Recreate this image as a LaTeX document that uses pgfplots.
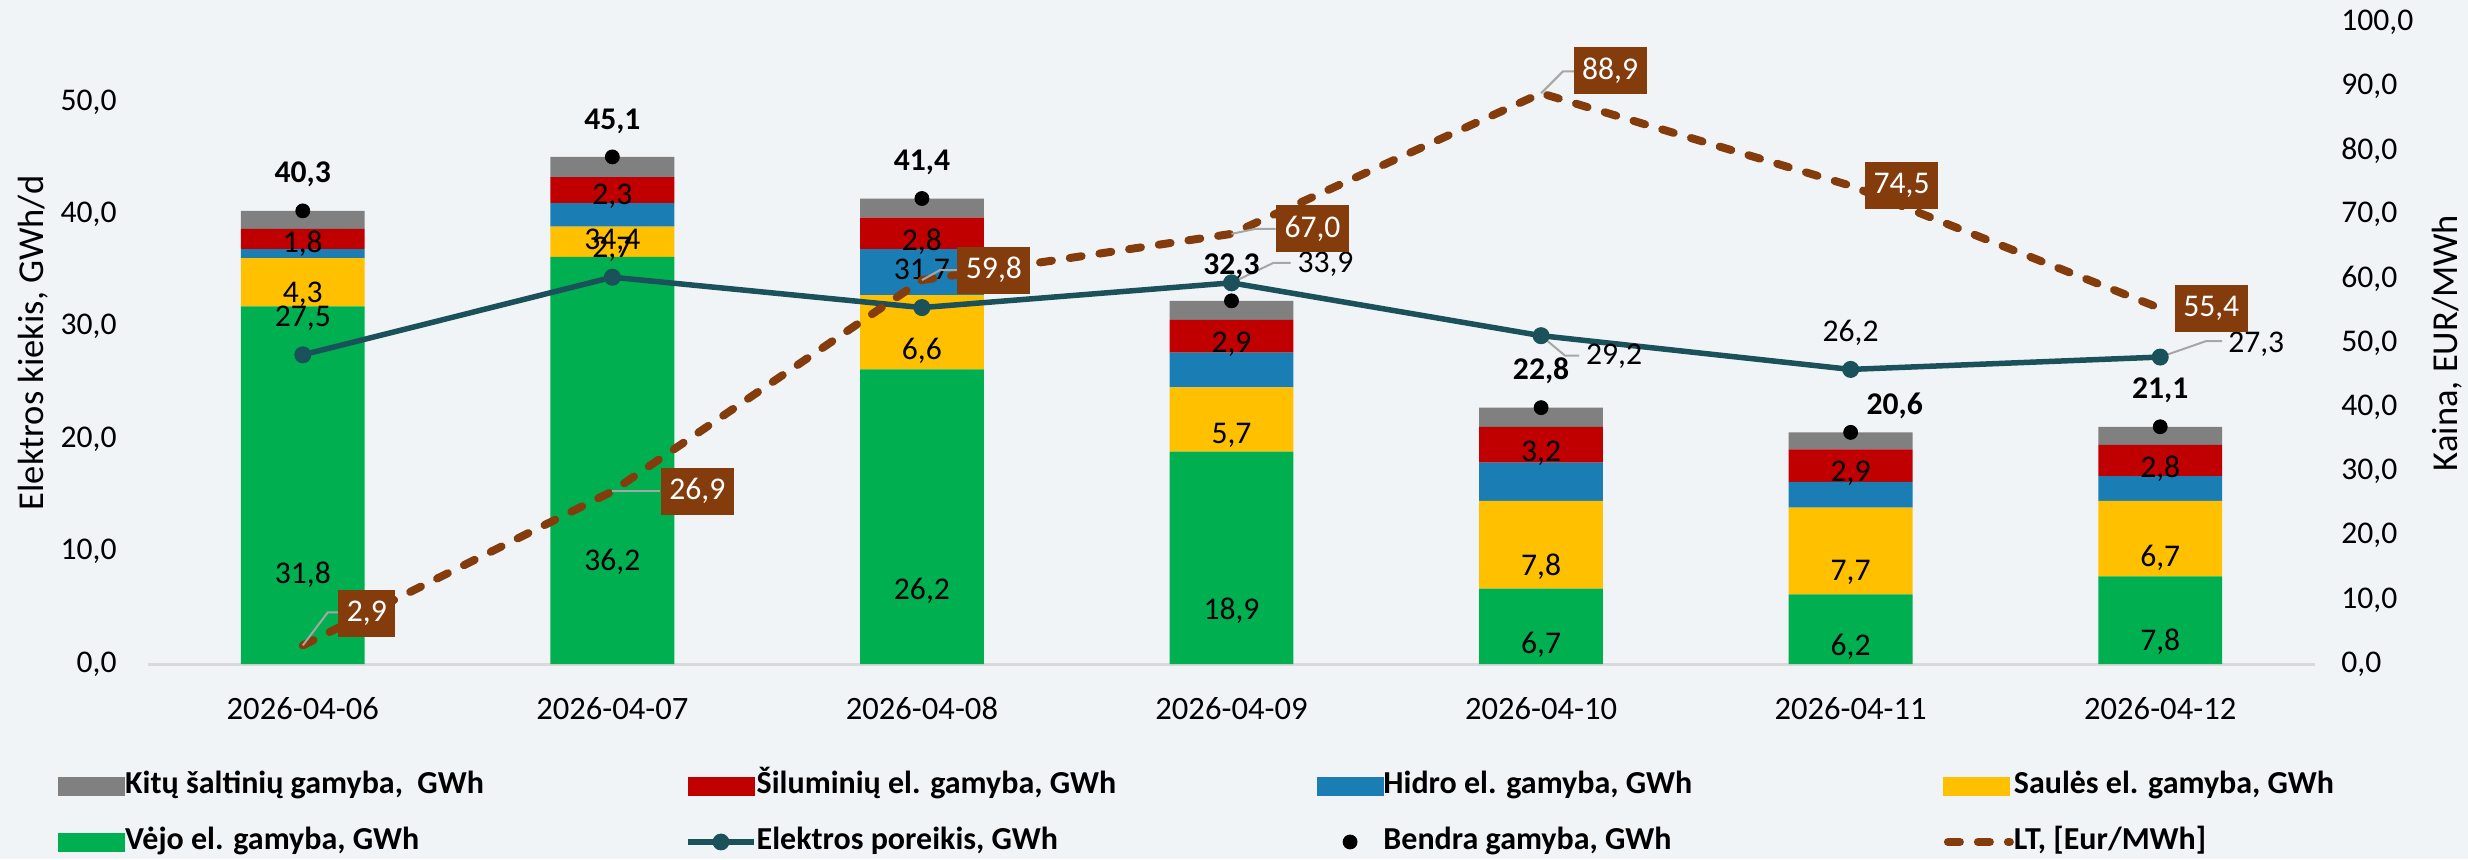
\documentclass[border=0pt]{standalone}
\usepackage{pgfplots}
\pgfplotsset{compat=1.18}
\usepackage{pgfplotstable}
\usepackage{fontspec}
\setmainfont{Carlito}
\definecolor{bgc}{HTML}{F0F4F7}
\definecolor{cgreen}{HTML}{00B050}
\definecolor{cyellow}{HTML}{FFC000}
\definecolor{cblue}{HTML}{1A7DB4}
\definecolor{cred}{HTML}{C00000}
\definecolor{cgrey}{HTML}{808080}
\definecolor{cdem}{HTML}{1B515B}
\definecolor{cprice}{HTML}{843C0C}
\definecolor{cleader}{HTML}{A6A6A6}
\definecolor{caxis}{HTML}{D9D9D9}

\pgfplotstableread{
x green yellow blue red grey
0 31.8 4.3 0.8 1.8 1.6
1 36.2 2.7 2.1 2.3 1.8
2 26.2 6.6 4.1 2.8 1.7
3 18.9 5.7 3.1 2.9 1.7
4 6.7 7.8 3.4 3.2 1.7
5 6.2 7.7 2.3 2.9 1.5
6 7.8 6.7 2.2 2.8 1.6
}\gen

\pgfplotstableread{
x y dx dy
0 27.5 0 18.5
1 34.4 0 18
2 31.7 0 18
3 33.9 47 9.5
4 29.2 36.5 -10.5
5 26.2 0 18.5
6 27.3 48 6.5
}\demand

\pgfplotstableread{
x y dx dy
0 40.3 0 18.5
1 45.1 0 18
2 41.4 0 18
3 32.3 0 17.5
4 22.8 0 18.5
5 20.6 22 13.5
6 21.1 0 18
}\total

\pgfplotstableread{
x y dx dy
0 2.9 32 16
1 26.9 42.5 0
2 59.8 36 5
3 67.0 40.5 2.5
4 88.9 34.5 11.5
5 74.5 25.5 0
6 55.4 25.5 0
}\price

\newcommand\lblfont{\fontsize{15.8}{19}\selectfont}
\newcommand\titfont{\fontsize{18.25}{22}\selectfont}
\pgfkeys{/pgf/number format/.cd, fixed, fixed zerofill, precision=1, use comma, assume math mode=true}
\tikzset{leader/.style={draw=cleader, line width=1pt}}

\pgfplotsset{
  common/.style={
    scale only axis, width=1083.5pt, height=321pt,
    at={(74pt,97.5pt)}, anchor=south west,
    xmin=-0.5, xmax=6.5, clip=false,
  },
  barlabels/.style={nodes near coords, point meta={\thisrow{#1}},
    visualization depends on={\thisrow{#1} \as \rawy},
    every node near coord/.append style={shift={(axis direction cs:0,-\rawy/4)}, anchor=center, font=\lblfont, text=black, inner sep=0pt}},
  ptlabels/.style={nodes near coords, point meta={\thisrow{y}},
    visualization depends on={\thisrow{dx} \as \dx},
    visualization depends on={\thisrow{dy} \as \dy},
    every node near coord/.append style={anchor=center, xshift=\dx pt, yshift=\dy pt, font=\lblfont, text=black, inner sep=0pt}},
}

\begin{document}
\begin{tikzpicture}
\useasboundingbox (0,0) rectangle (1234pt,429.5pt);
\fill[bgc] (0,0) rectangle (1234pt,429.5pt);

% bars
\begin{axis}[common, ymin=0, ymax=57.1,
  ybar stacked, bar width=0.4,
  axis x line*=bottom, axis y line*=left,
  x axis line style={-, draw=caxis, line width=1.5pt},
  y axis line style={draw=none},
  major tick length=0pt,
  xtick={0,...,6},
  xticklabels={2026-04-06,2026-04-07,2026-04-08,2026-04-09,2026-04-10,2026-04-11,2026-04-12},
  ytick={0,10,...,50},
  xticklabel style={anchor=north, inner sep=0pt, yshift=-16.5pt, font=\fontsize{16.3}{19}\selectfont},
  yticklabel style={anchor=east, inner sep=0pt, xshift=-15.5pt, font=\lblfont},
  ylabel={Elektros kiekis, GWh/d},
  ylabel style={at={(axis description cs:-0.0531,0.5)}, anchor=center, font=\titfont},
]
\addplot[fill=cgreen, draw=none, barlabels=green] table[x=x,y=green]{\gen};
\addplot[fill=cyellow, draw=none, barlabels=yellow] table[x=x,y=yellow]{\gen};
\addplot[fill=cblue, draw=none] table[x=x,y=blue]{\gen};
\addplot[fill=cred, draw=none, barlabels=red] table[x=x,y=red]{\gen};
\addplot[fill=cgrey, draw=none] table[x=x,y=grey]{\gen};
\end{axis}

% demand and totals
\begin{axis}[common, ymin=0, ymax=57.1, hide axis]
\addplot[cdem, line width=2.75pt, mark=*, mark size=4pt, mark options={solid, line width=0.5pt}, ptlabels]
  table[x=x,y=y]{\demand};
\addplot[only marks, mark=*, mark size=3.5pt, black, ptlabels,
  every node near coord/.append style={font=\lblfont\bfseries}]
  table[x=x,y=y]{\total};
\draw[leader] (axis cs:3,33.9) -- ++(21pt,10pt) -- ++(8.5pt,0pt);
\draw[leader] (axis cs:4,29.2) -- ++(12pt,-10pt) -- ++(7pt,0pt);
\draw[leader] (axis cs:6,27.3) -- ++(23pt,8pt) -- ++(8pt,0pt);
\end{axis}

% price
\begin{axis}[common, ymin=0, ymax=100,
  axis y line*=right, axis x line=none,
  y axis line style={draw=none},
  major tick length=0pt,
  ytick={0,10,...,100},
  yticklabel style={anchor=west, inner sep=0pt, xshift=13pt, font=\lblfont},
  ylabel={Kaina, EUR/MWh},
  ylabel style={at={(axis description cs:1.0609,0.5)}, anchor=center, font=\titfont},
  legend columns=4,
  legend cell align=left,
  legend style={at={(axis description cs:-0.04153,-0.2336)}, anchor=west, draw=none, fill=none,
    font=\fontsize{16}{19}\selectfont\bfseries, inner sep=0pt, column sep=0pt, row sep=10pt,
    nodes={inner sep=0pt, text height=13pt, text depth=5pt},
    every odd column/.style={column sep=4.5pt}},
]
\addlegendimage{legend image code/.code={\fill[cgrey] (0pt,-4.5pt) rectangle (33pt,4.5pt);}}
\addlegendentry{\makebox[280pt][l]{Kitų šaltinių gamyba,~ GWh}}
\addlegendimage{legend image code/.code={\fill[cred] (0pt,-4.5pt) rectangle (33pt,4.5pt);}}
\addlegendentry{\makebox[280pt][l]{Šiluminių el. gamyba, GWh}}
\addlegendimage{legend image code/.code={\fill[cblue] (0pt,-4.5pt) rectangle (33pt,4.5pt);}}
\addlegendentry{\makebox[280pt][l]{Hidro el. gamyba, GWh}}
\addlegendimage{legend image code/.code={\fill[cyellow] (0pt,-4.5pt) rectangle (33pt,4.5pt);}}
\addlegendentry{\makebox[280pt][l]{Saulės el. gamyba, GWh}}
\addlegendimage{legend image code/.code={\fill[cgreen] (0pt,-4.5pt) rectangle (33pt,4.5pt);}}
\addlegendentry{\makebox[280pt][l]{Vėjo el. gamyba, GWh}}
\addlegendimage{legend image code/.code={\draw[cdem, line width=2.75pt] (0pt,0pt) -- (33pt,0pt); \fill[cdem] (16.5pt,0pt) circle (4pt);}}
\addlegendentry{\makebox[280pt][l]{Elektros poreikis, GWh}}
\addlegendimage{legend image code/.code={\path[draw=none, fill=none] (0pt,0pt) (33pt,0pt); \fill[black] (16.5pt,0pt) circle (3.5pt);}}
\addlegendentry{\makebox[280pt][l]{Bendra gamyba, GWh}}
\addplot[cprice, line width=4pt, line cap=round, dash pattern=on 6pt off 9pt,
  legend image code/.code={\draw[cprice, line width=4pt, line cap=round, dash pattern=on 6pt off 9pt] (2pt,0pt) -- (33pt,0pt);},
  ptlabels,
  every node near coord/.append style={fill=cprice, text=white, inner xsep=4.25pt, inner ysep=0pt, minimum height=23.5pt, solid}]
  table[x=x,y=y]{\price};
\addlegendentry{\makebox[200pt][l]{LT, [Eur/MWh]}}
\draw[leader] (axis cs:0,2.9) -- ++(12.5pt,16.5pt) -- ++(5.5pt,0pt);
\draw[leader] (axis cs:1,26.9) -- ++(24pt,0pt);
\draw[leader] (axis cs:2,59.8) -- ++(9pt,5pt) -- ++(8.5pt,0pt);
\draw[leader] (axis cs:3,67.0) -- ++(12pt,2.5pt) -- ++(10pt,0pt);
\draw[leader] (axis cs:4,88.9) -- ++(11pt,11pt) -- ++(5.5pt,0pt);
\end{axis}
\end{tikzpicture}
\end{document}
